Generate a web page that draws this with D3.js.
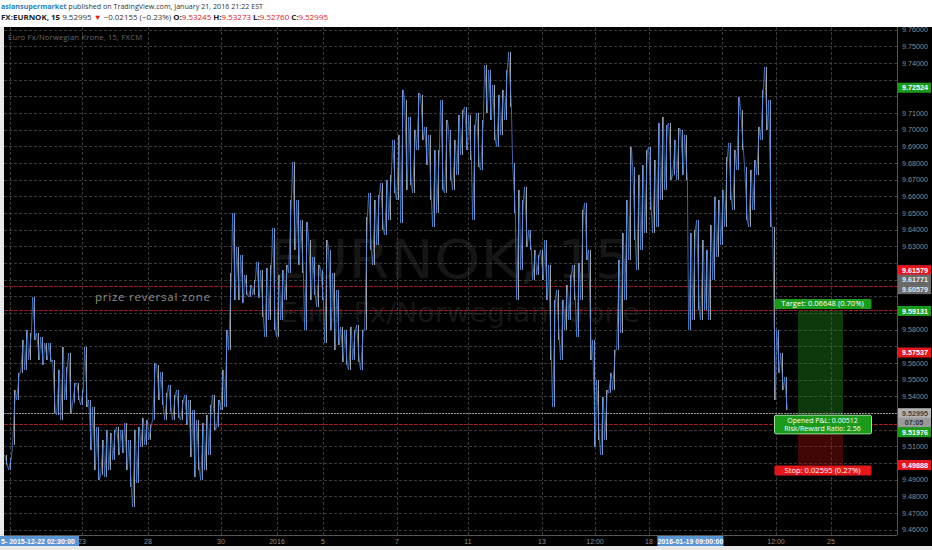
<!DOCTYPE html>
<html><head><meta charset="utf-8">
<script src="https://cdn.jsdelivr.net/npm/d3@7"></script>
<style>body{margin:0;background:#fff;} svg{display:block;}</style>
</head><body><svg id="c" width="932" height="550"></svg>
<script>
// ---- data (15-min bars of FX:EURNOK, grouped) ----
const highs = [9.5049,9.5031,9.5439,9.5541,9.5739,9.5799,9.5781,9.5997,9.5781,9.5757,
9.5721,9.5721,9.5619,9.5559,9.5697,9.5577,9.5661,9.5481,9.5481,9.5439,
9.5697,9.5379,9.5337,9.5217,9.5139,9.5199,9.5181,9.5199,9.5217,9.5199,
9.5241,9.5139,9.5199,9.5217,9.5271,9.5259,9.5229,9.5601,9.5589,9.5547,
9.5421,9.5469,9.5409,9.5439,9.5379,9.5409,9.5379,9.5319,9.5259,9.5241,
9.5289,9.5349,9.5409,9.5379,9.5559,9.5799,9.6141,9.6501,9.6297,9.6249,
9.6129,9.6069,9.6099,9.6207,9.6159,9.6171,9.6189,9.6411,9.6129,9.6159,
9.6189,9.6579,9.6807,9.6579,9.6459,9.6447,9.6339,9.6237,9.6189,9.6159,
9.6339,9.6279,9.6141,9.6039,9.5817,9.5799,9.5817,9.5799,9.5829,9.5799,
9.6477,9.6621,9.6579,9.6609,9.6681,9.6699,9.6729,9.6939,9.6969,9.7239,
9.7179,9.7077,9.6999,9.7221,9.7209,9.7017,9.6969,9.6879,9.6879,9.7179,
9.7059,9.6999,9.6939,9.7089,9.7119,9.7137,9.7089,9.7029,9.7101,9.7059,
9.7389,9.7359,9.7269,9.7209,9.7239,9.7359,9.7467,9.6801,9.6639,9.6579,
9.6657,9.6399,9.6279,9.6249,9.6279,9.6339,9.6189,9.5979,9.6039,9.5979,
9.6069,9.6129,9.6189,9.6201,9.6519,9.6561,9.6279,9.5739,9.5499,9.5397,
9.5439,9.5541,9.5679,9.6219,9.6381,9.6579,9.6897,9.6777,9.6729,9.6789,
9.6879,9.6897,9.6819,9.7041,9.7077,9.7029,9.7041,9.6939,9.7011,9.6999,
9.6969,9.6381,9.6399,9.6459,9.6339,9.6279,9.6429,9.6597,9.6579,9.6639,
9.6837,9.6921,9.6879,9.7197,9.7119,9.6777,9.6759,9.6819,9.7017,9.7239,
9.7377,9.7179,9.6417,9.5799,9.5661,9.5517];
const lows = [9.4989,9.4959,9.5109,9.5379,9.5541,9.5559,9.5619,9.5739,9.5619,9.5589,
9.5619,9.5607,9.5301,9.5289,9.5259,9.5379,9.5301,9.5361,9.5379,9.5349,
9.5337,9.5079,9.4959,9.4899,9.4929,9.4917,9.4959,9.5019,9.5049,9.5061,
9.4959,9.4857,9.4737,9.4881,9.5097,9.5109,9.5139,9.5259,9.5379,9.5349,
9.5259,9.5307,9.5259,9.5271,9.5259,9.5229,9.5037,9.4917,9.4959,9.4899,
9.4959,9.5049,9.5199,9.5217,9.5319,9.5337,9.5679,9.5979,9.5979,9.5961,
9.6009,9.5997,9.6009,9.5991,9.5877,9.5757,9.5859,9.5799,9.5757,9.5859,
9.5979,9.6141,9.6279,9.6189,9.6141,9.5799,9.5979,9.6009,9.5937,9.5979,
9.5721,9.5799,9.5679,9.5709,9.5607,9.5589,9.5559,9.5619,9.5607,9.5559,
9.5799,9.6279,9.6189,9.6309,9.6399,9.6369,9.6459,9.6621,9.6579,9.6441,
9.6639,9.6669,9.6621,9.6879,9.6939,9.6789,9.6579,9.6417,9.6501,9.6639,
9.6621,9.6699,9.6639,9.6729,9.6849,9.6879,9.6819,9.6459,9.6777,9.6759,
9.7101,9.7059,9.6939,9.6897,9.6969,9.7059,9.7137,9.6501,9.5979,9.6159,
9.6297,9.6279,9.6099,9.6129,9.6099,9.5979,9.5619,9.5337,9.5739,9.5619,
9.5799,9.5859,9.5979,9.5757,9.5979,9.6219,9.5619,9.5097,9.5139,9.5049,
9.5139,9.5421,9.5439,9.5679,9.5781,9.5979,9.6219,9.6339,9.6159,9.6279,
9.6381,9.6519,9.6381,9.6417,9.6579,9.6639,9.6699,9.6729,9.6699,9.6729,
9.6699,9.5799,9.5859,9.5919,9.5859,9.5919,9.5859,9.6099,9.6237,9.6309,
9.6417,9.6579,9.6519,9.6759,9.6879,9.6459,9.6417,9.6519,9.6729,9.6939,
9.6999,9.6417,9.5379,9.5541,9.5439,9.5319];

const priceTicks = [9.46,9.47,9.48,9.49,9.50,9.51,9.52,9.53,9.54,9.55,9.56,9.57,9.58,9.59,9.60,
  9.61,9.62,9.63,9.64,9.65,9.66,9.67,9.68,9.69,9.70,9.71,9.72,9.73,9.74,9.75,9.76];
const timeTickIndex = [1, 19, 35.5, 53.75, 67.75, 79.25, 97.75, 115.5, 134, 147.25, 160.75, 179, 192.5, 206.25];
const timeTickLabels = ["", "23", "28", "30", "2016", "5", "7", "11", "13", "12:00", "18", "", "12:00", "25"];
const timeMarkers = [{i: 8.5, text: "5- 2015-12-22 02:30:00"}, {i: 171.1, text: "2016-01-19 09:00:00"}];

const redLevels = [9.6065, 9.5917, 9.5237];
const lastPrice = 9.52995;
const position = {entry: 9.52483, target: 9.59131, stop: 9.49888, from: 198, to: 209.25};
const axisBadges = [
  {v: 9.72524, kind: "green"}, {v: 9.61579, kind: "red"}, {v: 9.61771, kind: "grey"},
  {v: 9.60579, kind: "grey"}, {v: 9.59131, kind: "green"}, {v: 9.56637, kind: "red", text: "9.57537"},
  {v: 9.52995, kind: "last"}, {v: 9.52995, kind: "timer", text: "07:05"}, {v: 9.51976, kind: "green"},
  {v: 9.49888, kind: "red"}];

// ---- drawing ----
const svg = d3.select("#c");
const L = 4, R = 897, T = 27, B = 535;
const x = d3.scaleLinear().domain([0, 222.5]).range([6, 896]);
const y = d3.scaleLinear().domain([9.46, 9.76]).range([529.8, 29.8]);

svg.append("rect").attr("width", 932).attr("height", 550).attr("fill", "#fff");
svg.append("rect").attr("x", 0).attr("y", T).attr("width", 4).attr("height", 523).attr("fill", "#e9e9e9");
svg.append("rect").attr("x", L).attr("y", T).attr("width", 932 - L).attr("height", 546 - T).attr("fill", "#000");
svg.append("rect").attr("x", 0).attr("y", 546).attr("width", 932).attr("height", 4).attr("fill", "#e9e9e9");

// header
const h1 = svg.append("text").attr("x", 1).attr("y", 9).attr("font-family", "Open Sans").attr("font-size", 7.6)
  .attr("fill", "#333").attr("textLength", 262).attr("lengthAdjust", "spacingAndGlyphs");
h1.append("tspan").attr("fill", "#1f7fc0").attr("font-weight", "bold").text("asiansupermarket");
h1.append("tspan").text(" published on TradingView.com, January 21, 2016 21:22 EST");
const h2 = svg.append("text").attr("x", 1).attr("y", 20).attr("font-family", "Open Sans").attr("font-size", 7.6)
  .attr("fill", "#333").attr("textLength", 327).attr("lengthAdjust", "spacingAndGlyphs");
const parts = [["FX:EURNOK, 15 ", "#222", "bold"], ["9.52995 ", "#333", "normal"], ["▼", "#e0161d", "normal"],
  [" −0.02155 (−0.23%) ", "#333", "normal"], ["O:", "#222", "bold"], ["9.53245", "#e0161d", "normal"],
  [" H:", "#222", "bold"], ["9.53273", "#e0161d", "normal"], [" L:", "#222", "bold"], ["9.52760", "#e0161d", "normal"],
  [" C:", "#222", "bold"], ["9.52995", "#e0161d", "normal"]];
parts.forEach(p => h2.append("tspan").attr("fill", p[1]).attr("font-weight", p[2]).text(p[0]));

// watermark
svg.append("text").attr("x", 268).attr("y", 278).attr("font-family", "DejaVu Sans").attr("font-size", 54)
  .attr("fill", "#161616").attr("textLength", 364).attr("lengthAdjust", "spacingAndGlyphs").text("EURNOK, 15");
svg.append("text").attr("x", 280).attr("y", 322).attr("font-family", "DejaVu Sans").attr("font-size", 27)
  .attr("fill", "#161616").attr("textLength", 360).attr("lengthAdjust", "spacingAndGlyphs").text("Euro Fx/Norwegian Krone");

// grid
const grid = svg.append("g").attr("stroke", "#3a3a3a").attr("stroke-width", 1).attr("stroke-dasharray", "3,2");
grid.selectAll("line.h").data(priceTicks).join("line")
  .attr("x1", L).attr("x2", R).attr("y1", d => Math.round(y(d)) + 0.5).attr("y2", d => Math.round(y(d)) + 0.5);
grid.selectAll("line.v").data(timeTickIndex).join("line")
  .attr("x1", d => Math.round(x(d)) + 0.5).attr("x2", d => Math.round(x(d)) + 0.5).attr("y1", T).attr("y2", B);

// position tool areas
svg.append("rect").attr("x", x(position.from)).attr("width", x(position.to) - x(position.from))
  .attr("y", y(position.target)).attr("height", y(position.entry) - y(position.target)).attr("fill", "rgba(34,150,34,0.38)");
svg.append("rect").attr("x", x(position.from)).attr("width", x(position.to) - x(position.from))
  .attr("y", y(position.entry)).attr("height", y(position.stop) - y(position.entry)).attr("fill", "rgba(170,18,18,0.38)");

// red levels
svg.selectAll("line.red").data(redLevels).join("line").attr("stroke", "#9a1c1c").attr("stroke-width", 1)
  .attr("stroke-dasharray", "4,1")
  .attr("x1", L).attr("x2", R).attr("y1", d => Math.round(y(d)) + 0.5).attr("y2", d => Math.round(y(d)) + 0.5);
// last price line
svg.append("line").attr("stroke", "#8f8f8f").attr("stroke-dasharray", "2,1")
  .attr("x1", L).attr("x2", R).attr("y1", Math.round(y(lastPrice)) + 0.5).attr("y2", Math.round(y(lastPrice)) + 0.5);

// prize reversal zone text
svg.append("text").attr("x", 95).attr("y", 301).attr("font-family", "Open Sans").attr("font-size", 11.5)
  .attr("fill", "#8a8a8a").attr("textLength", 115).text("prize reversal zone");

// price series: high-low bars plus a blue zig-zag through each bar
const mid = i => (highs[i] + lows[i]) / 2;
const pts = [];
highs.forEach((h, i) => {
  const up = i < highs.length - 1 ? mid(i + 1) >= mid(i) : false;
  const a = up ? lows[i] : h, b = up ? h : lows[i];
  pts.push([x(i) - 1.4, y(a)], [x(i) + 1.4, y(b)]);
});
svg.selectAll("line.bar").data(highs).join("line")
  .attr("x1", (d, i) => x(i) + 0.5).attr("x2", (d, i) => x(i) + 0.5)
  .attr("y1", d => y(d)).attr("y2", (d, i) => y(lows[i]))
  .attr("stroke", (d, i) => (i % 2 === 0) ? "#aeb4bd" : "#7fa6e6").attr("stroke-width", 0.9);
svg.append("path").attr("d", d3.line()(pts)).attr("fill", "none").attr("stroke", "#5584d6").attr("stroke-width", 0.75);

// chart title
svg.append("text").attr("x", 8).attr("y", 40).attr("font-family", "Open Sans").attr("font-size", 7.6)
  .attr("fill", "#6a6a6a").attr("textLength", 134).text("Euro Fx/Norwegian Krone, 15, FXCM");

// axes lines
svg.append("line").attr("x1", R + 0.5).attr("x2", R + 0.5).attr("y1", T).attr("y2", B).attr("stroke", "#555");
svg.append("line").attr("x1", L).attr("x2", R).attr("y1", B + 0.5).attr("y2", B + 0.5).attr("stroke", "#555");

// badge layout (pushed apart to avoid overlap)
let prev = -100;
const badgeY = axisBadges.map(b => { const cy = Math.max(y(b.v), prev + 9.5); prev = cy; return cy; });

// price axis labels (those hidden under a badge are skipped)
svg.selectAll("text.pt").data(priceTicks.filter(t => badgeY.every(by => Math.abs(by - y(t)) > 9)))
  .join("text").attr("x", 902).attr("y", d => y(d) + 2.6)
  .attr("font-family", "Liberation Sans").attr("font-size", 7.2).attr("fill", "#8c8c8c").text(d => d.toFixed(5));

// time axis labels
svg.selectAll("text.tt").data(timeTickIndex).join("text").attr("x", d => x(d)).attr("y", 543.5)
  .attr("text-anchor", "middle").attr("font-family", "Liberation Sans").attr("font-size", 7).attr("fill", "#8c8c8c")
  .text((d, i) => timeTickLabels[i]);
// highlighted time markers
timeMarkers.forEach(m => {
  const w = 66, cx = x(m.i), edge = m.i < 10;
  svg.append("rect").attr("x", edge ? 0 : cx - w / 2).attr("y", 536).attr("width", edge ? cx + w / 2 + 6 : w)
    .attr("height", 10).attr("fill", "#5a95d3");
  svg.append("text").attr("x", edge ? 1 : cx).attr("y", 543.5).attr("text-anchor", edge ? "start" : "middle")
    .attr("font-family", "Liberation Sans").attr("font-size", 7).attr("font-weight", "bold").attr("fill", "#fff").text(m.text);
});

// axis badges
const colors = {green: ["#1c9a1c", "#fff"], red: ["#e3161b", "#fff"], grey: ["#6a6a6a", "#e8e8e8"], last: ["#b3b3b3", "#444"], timer: ["#9a9a9a", "#333"]};
axisBadges.forEach((b, k) => {
  const cy = badgeY[k];
  const c = colors[b.kind];
  svg.append("rect").attr("x", 898).attr("y", cy - 5).attr("width", 33).attr("height", 10).attr("fill", c[0]);
  svg.append("text").attr("x", b.kind === "timer" ? 914 : 902).attr("y", cy + 2.6).attr("text-anchor", b.kind === "timer" ? "middle" : "start")
    .attr("font-family", "Liberation Sans").attr("font-size", 7.2).attr("font-weight", "bold").attr("fill", c[1])
    .text(b.text || b.v.toFixed(5));
});

// position labels
const pcx = (x(position.from) + x(position.to)) / 2 + 2;
function badge(cy, h, lines, fill, stroke) {
  svg.append("rect").attr("x", pcx - 48).attr("y", cy - h / 2).attr("width", 97).attr("height", h).attr("rx", 1.5)
    .attr("fill", fill).attr("stroke", stroke || "none");
  lines.forEach((t, k) => svg.append("text").attr("x", pcx).attr("y", cy - h / 2 + 7.4 + k * 8.6).attr("text-anchor", "middle")
    .attr("font-family", "Open Sans").attr("font-size", lines.length > 1 ? 7 : 7.6).attr("fill", "#fff").text(t));
}
const fmtPct = (a, b) => (Math.abs(a - b) / b * 100).toFixed(2) + "%";
badge(y(position.target) - 7, 10, ["Target: " + (position.target - position.entry).toFixed(5) + " (" + fmtPct(position.target, position.entry) + ")"], "#1c9a1c");
badge(y(position.entry) + 2.8, 18.6, ["Opened P&L: " + (lastPrice - position.entry).toFixed(5),
  "Risk/Reward Ratio: " + ((position.target - position.entry) / (position.entry - position.stop)).toFixed(2)], "#1c9a1c", "#9be09b");
badge(y(position.stop) + 5.5, 10, ["Stop: " + (position.entry - position.stop).toFixed(5) + " (" + fmtPct(position.stop, position.entry) + ")"], "#e3161b");
</script></body></html>
